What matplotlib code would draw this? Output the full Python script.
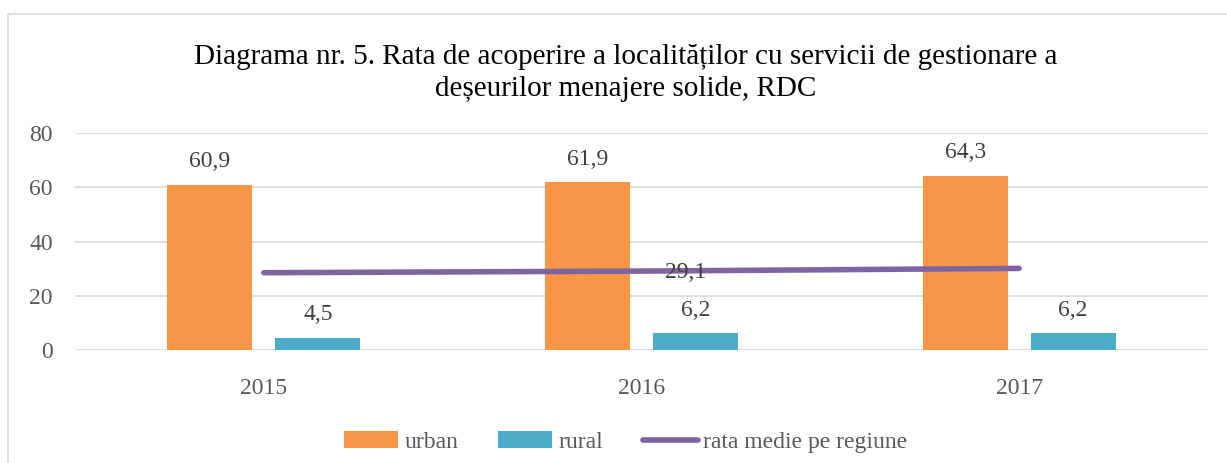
import numpy as np
import matplotlib.pyplot as plt
from matplotlib.patches import Rectangle

plt.rcParams['font.family'] = ['Liberation Serif', 'DejaVu Serif']

years = ["2015", "2016", "2017"]
urban = [60.9, 61.9, 64.3]
rural = [4.5, 6.2, 6.2]
rata_medie = [28.5, 29.1, 30.1]
yticks = [0, 20, 40, 60, 80]

c_urban = "#F79646"
c_rural = "#4BACC6"
c_line = "#8064A2"
txt = "#404040"

fig = plt.figure(figsize=(12.27, 4.63), dpi=100)
ax = fig.add_axes([0.0611, 0.244, 0.9234, 0.4687])

x = np.arange(len(years))
w = 0.225
b1 = ax.bar(x - 0.143, urban, w, color=c_urban, label="urban", zorder=2)
b2 = ax.bar(x + 0.143, rural, w, color=c_rural, label="rural", zorder=2)
ln, = ax.plot(x, rata_medie, color=c_line, lw=4, solid_capstyle="round",
              label="rata medie pe regiune", zorder=3)

for xi, v in zip(x - 0.143, urban):
    ax.text(xi, v + 8.5, f"{v:.1f}".replace(".", ","), ha="center", va="center",
            fontsize=17, color=txt)
for xi, v in zip(x + 0.143, rural):
    ax.text(xi, v + 8.5, f"{v:.1f}".replace(".", ","), ha="center", va="center",
            fontsize=17, color=txt)
# only the middle point of the line is labelled
ax.text(x[1] + 0.117, rata_medie[1] - 0.6, f"{rata_medie[1]:.1f}".replace(".", ","),
        ha="center", va="center", fontsize=17, color=txt, zorder=4)

ax.set_xlim(-0.5, 2.5)
ax.set_ylim(0, 80)
ax.set_yticks(yticks)
ax.set_xticks(x)
ax.set_xticklabels(years)
ax.grid(axis="y", color="#D9D9D9", lw=1.2, zorder=0)
for s in ax.spines.values():
    s.set_visible(False)
ax.tick_params(length=0, labelsize=17, colors="#595959")
ax.tick_params(axis="y", pad=16)
ax.tick_params(axis="x", pad=20)

fig.text(0.51, 0.843, "Diagrama nr. 5. Rata de acoperire a localităților cu servicii de gestionare a\ndeșeurilor menajere solide, RDC",
         ha="center", va="center", fontsize=21, color="black", linespacing=1.3)

fig.legend(handles=[b1, b2, ln], loc="center", bbox_to_anchor=(0.51, 0.045),
           ncol=3, frameon=False, fontsize=17, handlelength=2.3,
           handletextpad=0.25, columnspacing=1.7, labelcolor="#595959")

fig.patches.append(Rectangle((8 / 1227, -0.1), 1.2, 1 - 14 / 463 + 0.1,
                             transform=fig.transFigure, fill=False,
                             edgecolor="#D9D9D9", lw=1.2))

fig.savefig("out.png", dpi=100)
